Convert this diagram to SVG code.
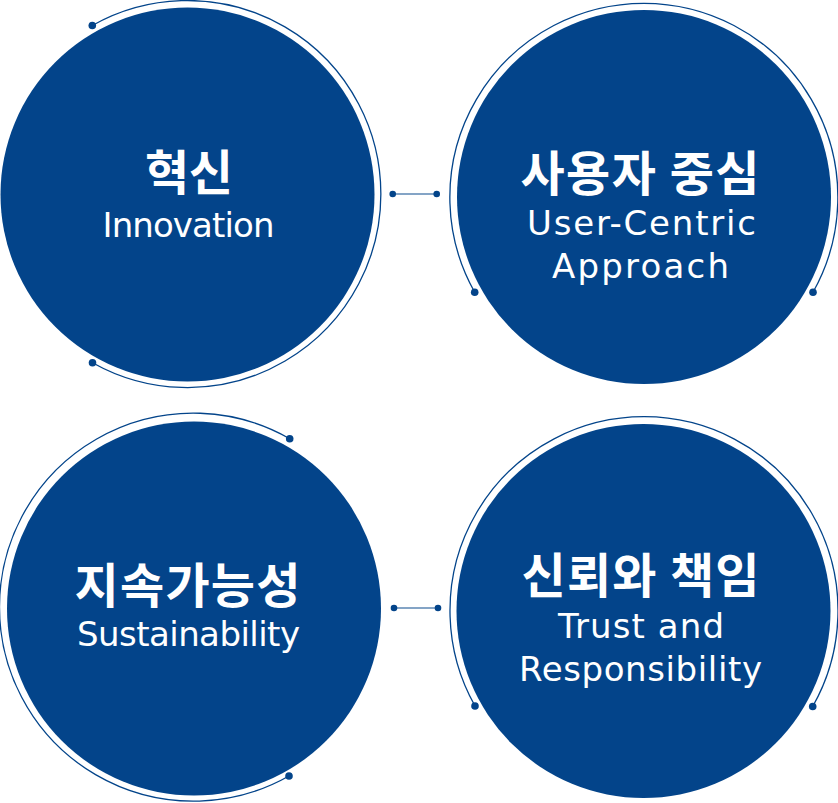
<svg xmlns="http://www.w3.org/2000/svg" width="838" height="803" viewBox="0 0 838 803">
<style>
.disc{fill:#03448A}
.ring{fill:none;stroke:#03448A;stroke-width:1.3}
.dot{fill:#03448A}
.link{stroke:#03448A;stroke-opacity:0.65;stroke-width:1.5}
.ko{font-family:"Noto Sans CJK KR","Noto Sans",sans-serif;font-weight:700;font-size:48px;fill:#fff;text-anchor:middle}
.en{font-family:"DejaVu Sans","Noto Sans",sans-serif;font-weight:400;font-size:34px;fill:#fff;text-anchor:middle}
</style>
<rect width="838" height="803" fill="#fff"/>
<g id="connectors">
<line class="link" x1="392.7" y1="194" x2="436.7" y2="194"/>
<circle class="dot" cx="392.7" cy="194" r="3.3"/>
<circle class="dot" cx="436.7" cy="194" r="3.3"/>
<line class="link" x1="394" y1="608" x2="438" y2="608"/>
<circle class="dot" cx="394" cy="608" r="3.3"/>
<circle class="dot" cx="438" cy="608" r="3.3"/>
</g>
<g id="innovation">
<circle class="disc" cx="187.5" cy="194.5" r="187"/>
<path class="ring" d="M92.3,25.5 A193.5,193.5 0 1 1 92.5,362.7"/>
<circle class="dot" cx="92.3" cy="25.5" r="3.8"/>
<circle class="dot" cx="92.5" cy="362.7" r="3.8"/>
<text class="ko" x="189" y="189.5" textLength="88" lengthAdjust="spacing">혁신</text>
<text class="en" x="188.5" y="237" textLength="172" lengthAdjust="spacing">Innovation</text>
</g>
<g id="user-centric">
<circle class="disc" cx="644" cy="197" r="187"/>
<path class="ring" d="M474.7,292.3 A194,194 0 1 1 813,292.3"/>
<circle class="dot" cx="474.7" cy="292.3" r="3.8"/>
<circle class="dot" cx="813" cy="292.3" r="3.8"/>
<text class="ko" x="640" y="190.5" textLength="239" lengthAdjust="spacing">사용자 중심</text>
<text class="en" x="641.5" y="235" textLength="229" lengthAdjust="spacing">User-Centric</text>
<text class="en" x="640.5" y="278.3" textLength="177" lengthAdjust="spacing">Approach</text>
</g>
<g id="sustainability">
<circle class="disc" cx="194" cy="608.5" r="187"/>
<path class="ring" d="M289.7,438.7 A194,194 0 1 0 289,776"/>
<circle class="dot" cx="289.7" cy="438.7" r="3.8"/>
<circle class="dot" cx="289" cy="776" r="3.8"/>
<text class="ko" x="187.5" y="602.5" textLength="226" lengthAdjust="spacing">지속가능성</text>
<text class="en" x="188.5" y="646" textLength="223" lengthAdjust="spacing">Sustainability</text>
</g>
<g id="trust">
<circle class="disc" cx="643.5" cy="611" r="187"/>
<path class="ring" d="M475,706 A194,194 0 1 1 812.7,706.5"/>
<circle class="dot" cx="475" cy="706" r="3.8"/>
<circle class="dot" cx="812.7" cy="706.5" r="3.8"/>
<text class="ko" x="640.5" y="592.5" textLength="238" lengthAdjust="spacing">신뢰와 책임</text>
<text class="en" x="641" y="638.3" textLength="166" lengthAdjust="spacing">Trust and</text>
<text class="en" x="640.5" y="680.7" textLength="243" lengthAdjust="spacing">Responsibility</text>
</g>
</svg>
